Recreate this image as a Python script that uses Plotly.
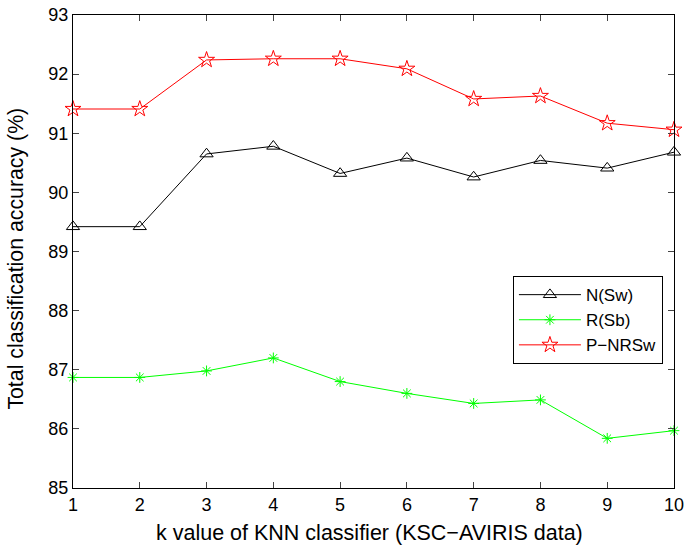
import plotly.graph_objects as go

k_values = [1, 2, 3, 4, 5, 6, 7, 8, 9, 10]
n_sw = [89.42, 89.42, 90.65, 90.78, 90.32, 90.58, 90.26, 90.54, 90.41, 90.68]
r_sb = [86.87, 86.87, 86.98, 87.20, 86.80, 86.60, 86.43, 86.49, 85.84, 85.97]
p_nrsw = [91.41, 91.41, 92.24, 92.26, 92.26, 92.09, 91.58, 91.63, 91.17, 91.06]
y_ticks = [85, 86, 87, 88, 89, 90, 91, 92, 93]

font = "Liberation Sans, Arial, sans-serif"

fig = go.Figure()
fig.add_trace(go.Scatter(x=k_values, y=n_sw, name="N(Sw)", mode="lines+markers",
                         cliponaxis=False,
                         line=dict(color="black", width=1),
                         marker=dict(symbol="triangle-up-open", size=11.5, color="black",
                                     line=dict(width=1, color="black"))))
fig.add_trace(go.Scatter(x=k_values, y=r_sb, name="R(Sb)", mode="lines+markers",
                         cliponaxis=False,
                         line=dict(color="#00ff00", width=1),
                         marker=dict(symbol="asterisk-open", size=9, color="#00ff00",
                                     line=dict(width=1, color="#00ff00"))))
fig.add_trace(go.Scatter(x=k_values, y=p_nrsw, name="P\u2212NRSw", mode="lines+markers",
                         cliponaxis=False,
                         line=dict(color="red", width=1),
                         marker=dict(symbol="star-open", size=12, color="red",
                                     line=dict(width=1, color="red"))))

fig.update_layout(
    width=685, height=549,
    margin=dict(l=73, r=11, t=15, b=61),
    paper_bgcolor="white", plot_bgcolor="white",
    font=dict(family=font, size=18, color="black"),
    showlegend=True,
    legend=dict(x=0.732, y=0.448, xanchor="left", yanchor="top",
                bordercolor="black", borderwidth=1, bgcolor="white",
                font=dict(size=17), tracegroupgap=0, itemwidth=62),
    annotations=[
        dict(text="k value of KNN classifier (KSC\u2212AVIRIS data)",
             x=0.4933, y=-0.0951, xref="paper", yref="paper",
             xanchor="center", yanchor="middle", showarrow=False,
             font=dict(size=21.5)),
        dict(text="Total classification accuracy (%)",
             x=-0.0948, y=0.485, xref="paper", yref="paper", textangle=-90,
             xanchor="center", yanchor="middle", showarrow=False,
             font=dict(size=21.3)),
    ],
)
fig.update_xaxes(range=[1, 10], tickvals=k_values, ticks="inside", ticklen=6,
                 showline=True, mirror="ticks", linecolor="black", linewidth=1,
                 showgrid=False, zeroline=False, automargin=False,
                 ticklabeloverflow="allow")
fig.update_yaxes(range=[85, 93], tickvals=y_ticks, ticks="inside", ticklen=6,
                 showline=True, mirror="ticks", linecolor="black", linewidth=1,
                 showgrid=False, zeroline=False, automargin=False,
                 ticklabeloverflow="allow")

fig.write_html("out.html", config={"displayModeBar": False},
               post_script="document.body.style.margin='0';document.body.style.padding='0';")
